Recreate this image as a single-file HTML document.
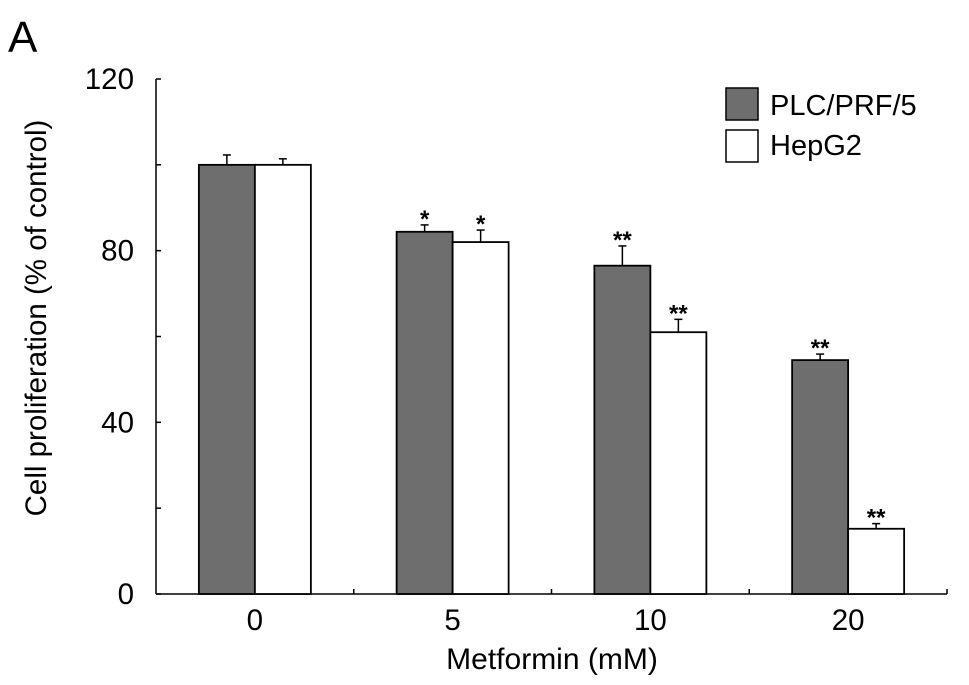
<!DOCTYPE html>
<html><head><meta charset="utf-8"><style>
html,body{margin:0;padding:0;background:#fff;}
svg{display:block;font-family:"Liberation Sans",Arial,sans-serif;}
</style></head><body>
<svg id="chart" width="969" height="685" viewBox="0 0 969 685" xmlns="http://www.w3.org/2000/svg">
<text x="8" y="52" font-size="44" fill="#000">A</text>
<text transform="translate(46,318) rotate(-90)" text-anchor="middle" font-size="29.5" fill="#000">Cell proliferation (% of control)</text>
<text x="552" y="669" text-anchor="middle" font-size="30" fill="#000">Metformin (mM)</text>
<g>
<rect x="726" y="88" width="32" height="32" fill="#6e6e6e" stroke="#000" stroke-width="1.5"/>
<text x="770" y="115" font-size="29">PLC/PRF/5</text>
<rect x="726" y="130" width="32" height="32" fill="#fff" stroke="#000" stroke-width="1.5"/>
<text x="770" y="155" font-size="29">HepG2</text>
</g>
<g id="plot"></g>
</svg>
<script>
const categories = ["0","5","10","20"];
const plcValues = [100, 84.4, 76.5, 54.5];
const plcErrors = [2.3, 1.6, 4.6, 1.4];
const hepValues = [100, 82, 61, 15.2];
const hepErrors = [1.4, 2.8, 3, 1.2];
const plcMarks = ["", "*", "**", "**"];
const hepMarks = ["", "*", "**", "**"];
const yTicks = [0, 40, 80, 120];
const yMinorTicks = [20, 60, 100];

const NS = "http://www.w3.org/2000/svg";
const g = document.getElementById("plot");
const x0 = 156, xEnd = 947, y0 = 594, yTop = 79, yMax = 120;
const step = (xEnd - x0) / categories.length;
const barW = 56;
function yScale(v){ return y0 - (v / yMax) * (y0 - yTop); }
function xCenter(i){ return x0 + step * (i + 0.5); }
function mk(tag, attrs){ const e = document.createElementNS(NS, tag); for (const k in attrs) e.setAttribute(k, attrs[k]); g.appendChild(e); return e; }

let e = mk("line", {x1:x0, y1:yTop, x2:x0, y2:y0, stroke:"#000", "stroke-width":1.5});


e = mk("line", {x1:x0, y1:y0, x2:xEnd, y2:y0, stroke:"#000", "stroke-width":1.5});



yTicks.forEach(t => {
  const y = yScale(t);
  let tk = mk("line", {x1:x0, y1:y, x2:x0+5, y2:y, stroke:"#000", "stroke-width":1.5});
  
  
  let lb = mk("text", {x:x0-22, y:y+10, "text-anchor":"end", "font-size":29.5});
  lb.textContent = t;
  
  
});
yMinorTicks.forEach(t => {
  const y = yScale(t);
  let tk = mk("line", {x1:x0, y1:y, x2:x0+5, y2:y, stroke:"#000", "stroke-width":1.5});
  
  
});
for (let i = 1; i <= categories.length; i++) {
  const x = x0 + step * i;
  let tk = mk("line", {x1:x, y1:y0, x2:x, y2:y0-5, stroke:"#000", "stroke-width":1.5});
  
  
}
function bar(i, v, err, mark, dx, fill, name){
  const xl = xCenter(i) + dx;
  const yt = yScale(v);
  let r = mk("rect", {x:xl, y:yt, width:barW, height:y0-yt, fill:fill, stroke:"#000", "stroke-width":1.8});
  
  
  const cx = xl + barW/2, ye = yScale(v + err);
  let l = mk("line", {x1:cx, y1:yt, x2:cx, y2:ye, stroke:"#000", "stroke-width":1.5});
  
  
  let c = mk("line", {x1:cx-4, y1:ye, x2:cx+4, y2:ye, stroke:"#000", "stroke-width":1.5});
  
  
  if (mark) {
    let s = mk("text", {x:cx, y:ye+2, "text-anchor":"middle", "font-size":24, "font-weight":"bold"});
    s.textContent = mark;
    
    
  }
}
categories.forEach((c, i) => {
  bar(i, plcValues[i], plcErrors[i], plcMarks[i], -barW, "#6e6e6e", "plc");
  bar(i, hepValues[i], hepErrors[i], hepMarks[i], 0, "#fff", "hepg2");
  let t = mk("text", {x:xCenter(i), y:y0+36, "text-anchor":"middle", "font-size":29.5});
  t.textContent = c;
  
  
});
</script>
</body></html>
